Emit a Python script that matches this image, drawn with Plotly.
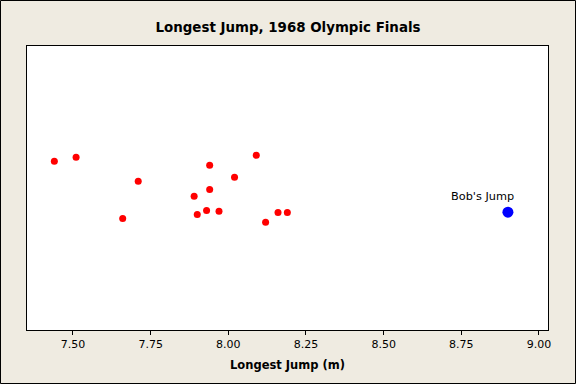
import plotly.graph_objects as go

# Finalists' longest jumps (m) and vertical jitter positions
jumps = [7.44, 7.51, 7.71, 7.66, 7.89, 7.90, 7.93, 7.94, 7.94, 7.97, 8.02, 8.09, 8.12, 8.16, 8.19]
jitter = [0.594, 0.608, 0.524, 0.393, 0.471, 0.407, 0.421, 0.580, 0.495, 0.418, 0.538, 0.615, 0.379, 0.414, 0.414]

bob_jump = [8.90]
bob_jitter = [0.415]
bob_label = "Bob's Jump"

x_ticks = [7.50, 7.75, 8.00, 8.25, 8.50, 8.75, 9.00]
x_tick_labels = ["7.50", "7.75", "8.00", "8.25", "8.50", "8.75", "9.00"]

W, H = 576, 384
ml, mr, mt, mb = 27, 28, 46, 54
pw, ph = W - ml - mr, H - mt - mb

fig = go.Figure()
fig.add_trace(go.Scatter(x=jumps, y=jitter, mode="markers",
                         marker=dict(color="#FF0000", size=7, line=dict(width=0)),
                         hoverinfo="x", showlegend=False))
fig.add_trace(go.Scatter(x=bob_jump, y=bob_jitter, mode="markers",
                         marker=dict(color="#0000FF", size=11, line=dict(width=0)),
                         hoverinfo="x", showlegend=False))

fig.add_annotation(x=bob_jump[0], y=bob_jitter[0], text=bob_label, showarrow=False,
                   xshift=-25, yshift=16,
                   font=dict(family="DejaVu Sans", size=11.3, color="black"))

# outer frame of the figure
fig.add_shape(type="rect", xref="paper", yref="paper",
              x0=(0.5 - ml) / pw, x1=(W - 0.5 - ml) / pw,
              y0=-(H - 0.5 - mt - ph) / ph, y1=(ph + mt - 0.5) / ph,
              line=dict(color="black", width=1), fillcolor="rgba(0,0,0,0)", layer="below")

fig.update_layout(
    width=W, height=H,
    margin=dict(l=ml, r=mr, t=mt, b=mb),
    paper_bgcolor="#EFEBE1",
    plot_bgcolor="white",
    title=dict(text="<b>Longest Jump, 1968 Olympic Finals</b>", x=0.5, xanchor="center",
               y=1 - 27 / H, yanchor="middle",
               font=dict(family="DejaVu Sans", size=13.4, color="black")),
    font=dict(family="DejaVu Sans", size=11, color="black"),
    xaxis=dict(range=[7.352, 9.029], tickvals=x_ticks, ticktext=x_tick_labels,
               ticks="outside", ticklen=4, tickcolor="black", tickwidth=1,
               showline=True, linecolor="black", linewidth=1, mirror=True,
               showgrid=False, zeroline=False,
               title=dict(text="<b>Longest Jump (m)</b>", standoff=10,
                          font=dict(family="DejaVu Sans", size=11.5, color="black")),
               tickfont=dict(family="DejaVu Sans", size=11, color="black")),
    yaxis=dict(range=[0, 1], showticklabels=False, ticks="",
               showline=True, linecolor="black", linewidth=1, mirror=True,
               showgrid=False, zeroline=False),
)

fig.write_html("out.html", config={"displayModeBar": False},
               post_script="document.body.style.margin='0';")
